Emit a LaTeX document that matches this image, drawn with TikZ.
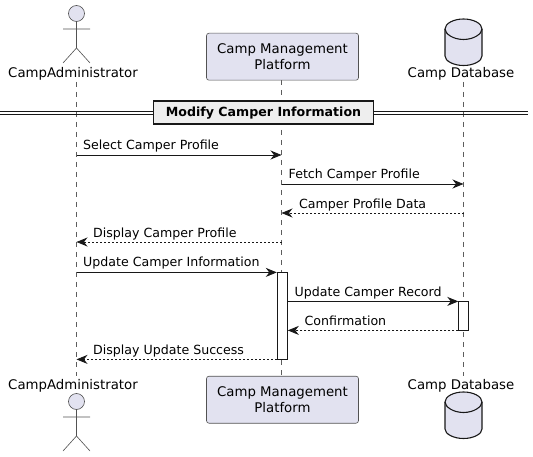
\documentclass[tikz,border=0pt]{standalone}
\usepackage{fontspec}
\setmainfont{DejaVu Sans}
\usetikzlibrary{arrows.meta}
\definecolor{part}{HTML}{E2E2F0}
\definecolor{ink}{HTML}{181818}
\definecolor{divfill}{HTML}{EEEEEE}
\tikzset{
  x=1pt,y=-1pt,
  lifeline/.style={draw=ink!70,line width=0.5pt,dash pattern=on 5pt off 5pt},
  partbox/.style={draw=ink!75,line width=0.6pt,fill=part,rounded corners=2.5pt},
  actorline/.style={draw=ink!75,line width=0.6pt},
  dbshape/.style={draw=ink,line width=1.1pt,fill=part},
  partlabel/.style={font=\fontsize{13.3}{16}\selectfont,text=black,inner sep=0pt,anchor=base},
  msglabel/.style={font=\fontsize{12.6}{15}\selectfont,text=black,inner sep=0pt,anchor=base west},
  msg/.style={draw=ink,line width=0.9pt,-{Stealth[length=11pt,width=9pt,inset=3.5pt]}},
  reply/.style={msg,dash pattern=on 2pt off 2pt},
  actbar/.style={draw=ink,line width=0.9pt,fill=white,minimum width=10.5pt,inner sep=0pt},
  divbox/.style={draw=ink,line width=1.6pt,fill=divfill,minimum width=220pt,minimum height=23pt,inner sep=0pt,font=\fontsize{12.6}{15}\bfseries\selectfont,text=black},
  divline/.style={draw=ink,line width=0.9pt},
}
\newcommand{\stickman}[2]{% x, head centre y
  \draw[actorline,fill=part] (#1,#2) circle (8);
  \draw[actorline] (#1,#2+8) -- (#1,#2+34.5)
     (#1-13.5,#2+15.5) -- (#1+13.5,#2+15.5)
     (#1-13.5,#2+49.5) -- (#1,#2+34.5) -- (#1+13.5,#2+49.5);
}
\newcommand{\dbcyl}[2]{% x, top y
  \draw[dbshape] (#1-18.5,#2+10) -- (#1-18.5,#2+37)
    .. controls (#1-18.5,#2+42) and (#1-10,#2+46.5) .. (#1,#2+46.5)
    .. controls (#1+10,#2+46.5) and (#1+18.5,#2+42) .. (#1+18.5,#2+37)
    -- (#1+18.5,#2+10)
    .. controls (#1+18.5,#2+4.5) and (#1+10,#2) .. (#1,#2)
    .. controls (#1-10,#2) and (#1-18.5,#2+4.5) .. (#1-18.5,#2+10) -- cycle;
  \draw[dbshape,fill=none] (#1-18.5,#2+10)
    .. controls (#1-18.5,#2+15) and (#1-10,#2+20.5) .. (#1,#2+20.5)
    .. controls (#1+10,#2+20.5) and (#1+18.5,#2+15) .. (#1+18.5,#2+10);
}
\begin{document}
\begin{tikzpicture}
\useasboundingbox (0,0) rectangle (533,457);
% lifelines
\coordinate (ltop) at (76.5,82);
\coordinate (lbot) at (76.5,376);
\coordinate (ptop) at (281.5,80);
\coordinate (pbot) at (281.5,376);
\coordinate (dtop) at (463.5,82);
\coordinate (dbot) at (463.5,376);
\draw[lifeline] (ltop) -- (lbot);
\draw[lifeline] (ptop) -- (pbot);
\draw[lifeline] (dtop) -- (dbot);
% divider
\coordinate (dl1) at (0,111.6);
\coordinate (dr1) at (527.8,111.6);
\coordinate (dl2) at (0,114.6);
\coordinate (dr2) at (527.8,114.6);
\draw[divline] (dl1) -- (dr1);
\draw[divline] (dl2) -- (dr2);
\node[divbox] (divider) at (263.5,112.7) {Modify Camper Information};
% participants
\stickman{76.5}{13.5}
\node[partlabel] (admintop) at (73,78) {CampAdministrator};
\node[partbox,minimum width=152pt,minimum height=47pt,inner sep=0pt] (plattop) at (282.5,56.7) {};
\node[partlabel] (plattop1) at (282.5,54) {Camp Management};
\node[partlabel] (plattop2) at (282.5,70) {Platform};
\dbcyl{463.5}{19}
\node[partlabel] (dbtop) at (461,78) {Camp Database};
\stickman{76.5}{401.5}
\node[partlabel] (adminbot) at (73,389) {CampAdministrator};
\node[partbox,minimum width=152pt,minimum height=47pt,inner sep=0pt] (platbot) at (282.5,399.7) {};
\node[partlabel] (platbot1) at (282.5,396.5) {Camp Management};
\node[partlabel] (platbot2) at (282.5,412.5) {Platform};
\dbcyl{463.5}{392}
\node[partlabel] (dbbot) at (461,389) {Camp Database};
% activations
\node[actbar,minimum height=87pt] (act1) at (282.5,315.7) {};
\node[actbar,minimum height=29pt] (act2) at (463.5,315.7) {};
% end points
\coordinate (a1) at (76.5,155); \coordinate (p1) at (281.5,155);
\coordinate (p2) at (281.5,184); \coordinate (d2) at (463.5,184);
\coordinate (d3) at (463.5,213); \coordinate (p3) at (281.5,213);
\coordinate (p4) at (281.5,242); \coordinate (a4) at (76.5,242);
\coordinate (a5) at (76.5,272.4); \coordinate (q5) at (276.8,272.4);
\coordinate (q6) at (287.8,301.4); \coordinate (d6) at (458.3,301.4);
\coordinate (d7) at (458.3,330.4); \coordinate (q7) at (287.8,330.4);
\coordinate (q8) at (276.8,359.4); \coordinate (a8) at (76.5,359.4);
\draw[msg] (a1) -- (p1);
\draw[msg] (p2) -- (d2);
\draw[reply] (d3) -- (p3);
\draw[reply] (p4) -- (a4);
\draw[msg] (a5) -- (q5);
\draw[msg] (q6) -- (d6);
\draw[reply] (d7) -- (q7);
\draw[reply] (q8) -- (a8);
% labels
\node[msglabel] (m1) at (83,150) {Select Camper Profile};
\node[msglabel] (m2) at (288.5,179) {Fetch Camper Profile};
\node[msglabel] (m3) at (299,208.5) {Camper Profile Data};
\node[msglabel] (m4) at (93,238) {Display Camper Profile};
\node[msglabel] (m5) at (83,267) {Update Camper Information};
\node[msglabel] (m6) at (294.5,296) {Update Camper Record};
\node[msglabel] (m7) at (304.5,325) {Confirmation};
\node[msglabel] (m8) at (93,354) {Display Update Success};
\end{tikzpicture}
\end{document}
